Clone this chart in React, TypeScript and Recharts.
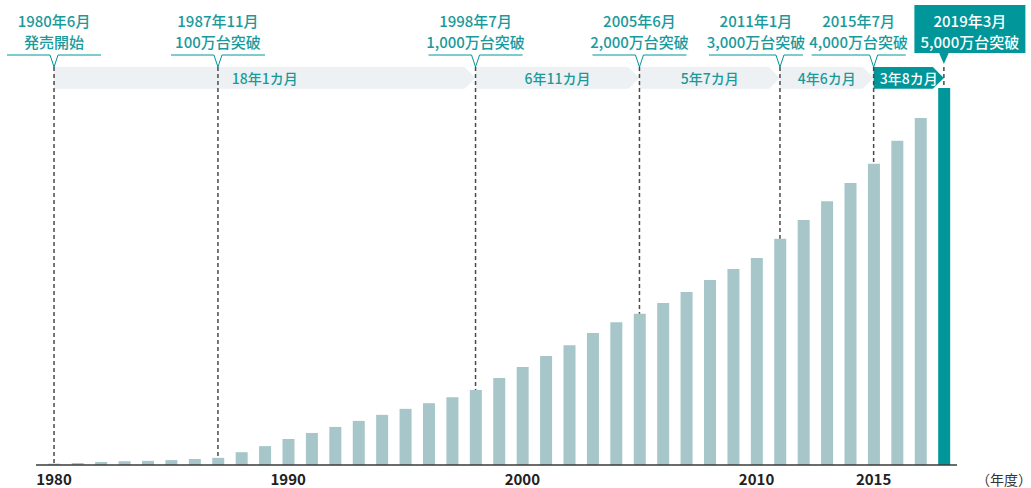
import { Bar, BarChart, Cell, ReferenceArea, ReferenceLine, XAxis, YAxis } from "recharts";

// 年度
const YEARS = [
  1980, 1981, 1982, 1983, 1984, 1985, 1986, 1987, 1988, 1989,
  1990, 1991, 1992, 1993, 1994, 1995, 1996, 1997, 1998, 1999,
  2000, 2001, 2002, 2003, 2004, 2005, 2006, 2007, 2008, 2009,
  2010, 2011, 2012, 2013, 2014, 2015, 2016, 2017, 2018,
];

// 累計台数（万台）
const UNITS = [
  18, 27, 40, 50, 55, 65, 80, 95, 170, 250,
  345, 425, 505, 585, 665, 745, 820, 900, 995, 1155,
  1300, 1445, 1590, 1750, 1895, 2005, 2150, 2295, 2455, 2600,
  2745, 3000, 3250, 3500, 3740, 3995, 4300, 4605, 5000,
];

const TICK_YEARS = [1980, 1990, 2000, 2010, 2015];

const MILESTONE_YEARS = [1980, 1987, 1998, 2005, 2011, 2015, 2018];
const MILESTONE_DATES = ["1980年6月", "1987年11月", "1998年7月", "2005年6月", "2011年1月", "2015年7月", "2019年3月"];
const MILESTONE_NOTES = ["発売開始", "100万台突破", "1,000万台突破", "2,000万台突破", "3,000万台突破", "4,000万台突破", "5,000万台突破"];

const BAND_EDGES = [1980, 1998, 2005, 2011, 2015, 2018];
const INTERVAL_LABELS = ["18年1カ月", "6年11カ月", "5年7カ月", "4年6カ月", "3年8カ月"];

const TEAL = "#00969a";
const TEAL_TEXT = "#1a9a9b";
const BAR_FILL = "#a6c6c9";
const BAND_FILL = "#edf1f4";
const FONT = '"Noto Sans CJK JP", "Noto Sans", sans-serif';

const Y_MAX = 5280;
const BAND_LOW = 4990;

// horizontal shift of each callout from its dashed line (px)
const CALLOUT_SHIFT = [0, 0, 0, 0, -24, -15, 26];

const data = YEARS.map((year, i) => ({ year, units: UNITS[i] }));
const lastYear = YEARS[YEARS.length - 1];

function Callout(props: any) {
  const { viewBox, index } = props;
  const cx = viewBox.x + (viewBox.width || 0) / 2;
  const top = viewBox.y;
  const mid = cx + CALLOUT_SHIFT[index];
  const isLast = index === MILESTONE_YEARS.length - 1;
  const textProps = {
    x: mid,
    textAnchor: "middle" as const,
    fontSize: 15,
    fontFamily: FONT,
    fontWeight: 500,
  };

  if (isLast) {
    return (
      <g>
        <rect x={mid - 55.5} y={top - 62} width={111} height={48} fill={TEAL} />
        <polygon points={`${cx - 5},${top - 14.5} ${cx},${top - 3} ${cx + 5},${top - 14.5}`} fill={TEAL} />
        <text {...textProps} y={top - 40.5} fill="#fff">{MILESTONE_DATES[index]}</text>
        <text {...textProps} y={top - 19.5} fill="#fff">{MILESTONE_NOTES[index]}</text>
      </g>
    );
  }

  const ly = top - 12;
  return (
    <g>
      <polyline
        points={`${mid - 47},${ly} ${cx - 4},${ly} ${cx},${top} ${cx + 4},${ly} ${mid + 47},${ly}`}
        fill="none"
        stroke={TEAL}
        strokeWidth={1}
      />
      <text {...textProps} y={top - 40.5} fill={TEAL_TEXT}>{MILESTONE_DATES[index]}</text>
      <text {...textProps} y={top - 19.5} fill={TEAL_TEXT}>{MILESTONE_NOTES[index]}</text>
    </g>
  );
}

function BandShape(props: any) {
  const { x, y, width, height, index } = props;
  const tip = 11;
  const isLast = index === INTERVAL_LABELS.length - 1;
  const pts = [
    `${x},${y}`,
    `${x + width - tip},${y}`,
    `${x + width},${y + height / 2}`,
    `${x + width - tip},${y + height}`,
    `${x},${y + height}`,
  ].join(" ");
  return (
    <g>
      <polygon points={pts} fill={isLast ? TEAL : BAND_FILL} />
      <text
        x={x + width / 2}
        y={y + height / 2 + 6}
        textAnchor="middle"
        fontSize={14}
        fontWeight={500}
        fontFamily={FONT}
        fill={isLast ? "#fff" : TEAL_TEXT}
      >
        {INTERVAL_LABELS[index]}
      </text>
    </g>
  );
}

function YearTick(props: any) {
  const { x, y, payload } = props;
  return (
    <text x={x} y={y + 12} textAnchor="middle" fontSize={15} fontWeight={700} fontFamily={FONT} fill="#222">
      {payload.value}
    </text>
  );
}

function FiscalLabel(props: any) {
  const { viewBox } = props;
  return (
    <text
      x={viewBox.x + viewBox.width + 19}
      y={viewBox.y + 20}
      fontSize={14}
      fontFamily={FONT}
      fill="#333"
    >
      （年度）
    </text>
  );
}

export default function App() {
  return (
    <div style={{ position: "absolute", left: 0, top: 0, width: 1031, height: 488, background: "#fff" }}>
      <BarChart width={1031} height={488} data={data} margin={{ top: 67, right: 74, bottom: 0, left: 36 }}>
        <XAxis
          dataKey="year"
          type="number"
          domain={[1979.23, 2018.56]}
          allowDataOverflow
          ticks={TICK_YEARS}
          interval={0}
          tick={<YearTick />}
          tickLine={false}
          axisLine={{ stroke: "#3a3a3a", strokeWidth: 1.5 }}
          height={23}
          label={<FiscalLabel />}
        />
        <YAxis hide domain={[0, Y_MAX]} allowDataOverflow />
        <Bar dataKey="units" barSize={12} isAnimationActive={false}>
          {data.map((d) => (
            <Cell key={d.year} fill={d.year === lastYear ? TEAL : BAR_FILL} />
          ))}
        </Bar>
        {INTERVAL_LABELS.map((_, i) => (
          <ReferenceArea
            key={`band-${i}`}
            x1={BAND_EDGES[i]}
            x2={BAND_EDGES[i + 1]}
            y1={BAND_LOW}
            y2={Y_MAX}
            shape={(p: any) => <BandShape {...p} index={i} />}
          />
        ))}
        {MILESTONE_YEARS.map((yr, i) => (
          <ReferenceLine
            key={`ms-${yr}`}
            segment={[
              { x: yr, y: Y_MAX },
              { x: yr, y: UNITS[YEARS.indexOf(yr)] },
            ]}
            stroke="#4a4a4a"
            strokeWidth={1.5}
            strokeDasharray="4 3"
            label={(p: any) => <Callout {...p} index={i} />}
          />
        ))}
      </BarChart>
    </div>
  );
}
